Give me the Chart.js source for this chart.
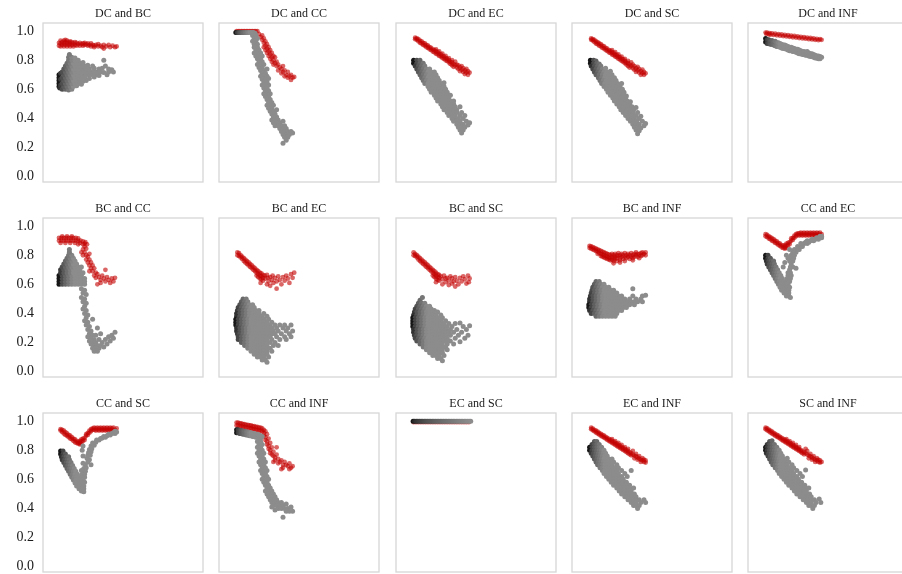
<!DOCTYPE html>
<html lang="en">
<head>
  <meta charset="UTF-8">
  <title>Pairwise scatter panels</title>
  <script src="https://cdn.jsdelivr.net/npm/chart.js@4"></script>
  <style>
    body {
      margin: 0;
      background: #fff;
      width: 902px;
      height: 574px;
      overflow: hidden;
      position: relative;
    }
    canvas { position: absolute; }
  </style>
</head>
<body>
<script>
  const yTicks = [0, 0.2, 0.4, 0.6, 0.8, 1.0];

  const panelTitles = [
    'DC and BC', 'DC and CC', 'DC and EC', 'DC and SC', 'DC and INF',
    'BC and CC', 'BC and EC', 'BC and SC', 'BC and INF', 'CC and EC',
    'CC and SC', 'CC and INF', 'EC and SC', 'EC and INF', 'SC and INF'
  ];

  // x is read as a fraction of the panel width (the source has no x ticks)
  const dcBcRed = [[0.10,0.90],[0.10,0.92],[0.11,0.895],[0.11,0.915],[0.11,0.935],[0.12,0.905],[0.12,0.925],[0.13,0.895],[0.13,0.915],[0.13,0.935],[0.14,0.905],[0.14,0.925],[0.14,0.94],[0.15,0.895],[0.15,0.915],[0.15,0.935],[0.16,0.905],[0.16,0.925],[0.17,0.895],[0.17,0.915],[0.17,0.93],[0.18,0.905],[0.18,0.925],[0.19,0.895],[0.19,0.915],[0.20,0.905],[0.20,0.925],[0.21,0.90],[0.21,0.92],[0.22,0.91],[0.23,0.90],[0.23,0.92],[0.24,0.91],[0.25,0.90],[0.25,0.915],[0.26,0.905],[0.26,0.92],[0.27,0.91],[0.28,0.90],[0.28,0.915],[0.29,0.905],[0.30,0.895],[0.30,0.915],[0.31,0.905],[0.32,0.90],[0.32,0.89],[0.33,0.905],[0.345,0.895],[0.345,0.91],[0.36,0.90],[0.37,0.89],[0.38,0.905],[0.38,0.88],[0.395,0.895],[0.41,0.905],[0.42,0.89],[0.435,0.90],[0.45,0.89],[0.46,0.895]];
  const dcBcGrey = [[0.10,0.62],[0.10,0.64],[0.10,0.66],[0.10,0.68],[0.10,0.70],[0.105,0.61],[0.11,0.63],[0.11,0.67],[0.11,0.71],[0.12,0.60],[0.14,0.60],[0.16,0.595],[0.18,0.60],[0.13,0.62],[0.15,0.62],[0.17,0.62],[0.19,0.62],[0.21,0.625],[0.12,0.64],[0.14,0.64],[0.16,0.64],[0.18,0.64],[0.20,0.64],[0.22,0.64],[0.24,0.635],[0.13,0.66],[0.15,0.66],[0.17,0.66],[0.19,0.66],[0.21,0.66],[0.23,0.66],[0.25,0.655],[0.27,0.66],[0.12,0.68],[0.14,0.68],[0.16,0.68],[0.18,0.68],[0.20,0.68],[0.22,0.68],[0.24,0.68],[0.26,0.68],[0.29,0.675],[0.32,0.685],[0.13,0.70],[0.15,0.70],[0.17,0.70],[0.19,0.70],[0.21,0.70],[0.23,0.70],[0.25,0.70],[0.27,0.70],[0.29,0.70],[0.31,0.70],[0.33,0.70],[0.35,0.695],[0.40,0.70],[0.12,0.72],[0.14,0.72],[0.16,0.72],[0.18,0.72],[0.20,0.72],[0.22,0.72],[0.24,0.72],[0.26,0.72],[0.28,0.72],[0.30,0.72],[0.32,0.72],[0.34,0.72],[0.36,0.72],[0.38,0.715],[0.41,0.72],[0.44,0.72],[0.13,0.74],[0.15,0.74],[0.17,0.74],[0.19,0.74],[0.21,0.74],[0.23,0.74],[0.25,0.74],[0.27,0.74],[0.29,0.74],[0.32,0.745],[0.35,0.74],[0.37,0.745],[0.41,0.74],[0.43,0.735],[0.14,0.76],[0.16,0.76],[0.18,0.76],[0.20,0.76],[0.22,0.76],[0.24,0.76],[0.26,0.76],[0.28,0.765],[0.31,0.76],[0.39,0.76],[0.15,0.78],[0.17,0.78],[0.19,0.78],[0.21,0.78],[0.23,0.78],[0.25,0.785],[0.16,0.80],[0.18,0.80],[0.20,0.80],[0.22,0.80],[0.38,0.80],[0.16,0.82],[0.18,0.82],[0.20,0.815],[0.165,0.84]];

  const dcCcRed = [[0.11,1.0],[0.12,1.0],[0.13,1.0],[0.14,1.0],[0.15,1.0],[0.16,1.0],[0.17,1.0],[0.18,1.0],[0.19,1.0],[0.20,1.0],[0.21,1.0],[0.22,1.0],[0.23,1.0],[0.24,1.0],[0.25,0.98],[0.26,0.96],[0.27,0.97],[0.27,0.94],[0.28,0.95],[0.28,0.92],[0.29,0.93],[0.29,0.90],[0.30,0.91],[0.29,0.87],[0.30,0.88],[0.31,0.89],[0.30,0.85],[0.31,0.86],[0.32,0.87],[0.31,0.83],[0.32,0.84],[0.33,0.85],[0.32,0.81],[0.33,0.82],[0.34,0.83],[0.33,0.79],[0.34,0.80],[0.35,0.78],[0.36,0.79],[0.34,0.77],[0.36,0.76],[0.37,0.77],[0.38,0.75],[0.37,0.73],[0.39,0.74],[0.40,0.72],[0.39,0.71],[0.41,0.73],[0.42,0.70],[0.43,0.72],[0.41,0.69],[0.44,0.69],[0.45,0.70],[0.46,0.68],[0.45,0.665],[0.47,0.685],[0.43,0.68],[0.40,0.76],[0.35,0.82],[0.28,0.89]];
  const dcCcGrey = [[0.105,0.99],[0.115,0.99],[0.125,0.99],[0.135,0.99],[0.145,0.99],[0.155,0.99],[0.165,0.99],[0.175,0.99],[0.185,0.99],[0.195,0.99],[0.205,0.99],[0.215,0.99],[0.225,0.985],[0.21,0.97],[0.23,0.97],[0.22,0.95],[0.24,0.95],[0.21,0.93],[0.23,0.93],[0.22,0.91],[0.24,0.91],[0.22,0.89],[0.24,0.89],[0.23,0.87],[0.25,0.87],[0.22,0.85],[0.24,0.85],[0.26,0.85],[0.23,0.83],[0.25,0.83],[0.27,0.83],[0.24,0.81],[0.26,0.81],[0.25,0.79],[0.27,0.79],[0.24,0.77],[0.26,0.77],[0.28,0.77],[0.25,0.75],[0.27,0.75],[0.26,0.73],[0.28,0.73],[0.30,0.74],[0.27,0.71],[0.29,0.71],[0.26,0.69],[0.28,0.69],[0.30,0.69],[0.27,0.67],[0.29,0.67],[0.31,0.675],[0.28,0.65],[0.30,0.65],[0.27,0.63],[0.29,0.63],[0.31,0.63],[0.28,0.61],[0.30,0.61],[0.29,0.59],[0.31,0.59],[0.28,0.57],[0.30,0.57],[0.32,0.57],[0.29,0.55],[0.31,0.55],[0.30,0.53],[0.32,0.53],[0.31,0.51],[0.33,0.51],[0.30,0.49],[0.32,0.49],[0.34,0.49],[0.31,0.47],[0.33,0.47],[0.32,0.45],[0.34,0.45],[0.36,0.46],[0.33,0.43],[0.35,0.43],[0.34,0.41],[0.36,0.41],[0.33,0.39],[0.35,0.39],[0.37,0.39],[0.34,0.37],[0.36,0.37],[0.38,0.37],[0.40,0.38],[0.35,0.35],[0.37,0.35],[0.39,0.35],[0.41,0.35],[0.38,0.33],[0.40,0.33],[0.42,0.33],[0.39,0.31],[0.41,0.31],[0.43,0.31],[0.45,0.31],[0.40,0.29],[0.42,0.29],[0.44,0.29],[0.46,0.30],[0.41,0.27],[0.43,0.27],[0.42,0.25],[0.40,0.23]];

  const dcEcRed = [[0.12,0.955],[0.12,0.945],[0.13,0.95],[0.13,0.94],[0.14,0.945],[0.14,0.93],[0.15,0.935],[0.15,0.92],[0.16,0.93],[0.16,0.915],[0.17,0.92],[0.17,0.905],[0.18,0.915],[0.18,0.90],[0.19,0.905],[0.19,0.89],[0.20,0.90],[0.20,0.885],[0.21,0.89],[0.21,0.875],[0.22,0.885],[0.22,0.87],[0.23,0.875],[0.23,0.86],[0.24,0.87],[0.24,0.855],[0.25,0.86],[0.25,0.845],[0.25,0.875],[0.26,0.855],[0.26,0.84],[0.27,0.845],[0.27,0.83],[0.27,0.86],[0.28,0.84],[0.28,0.825],[0.29,0.83],[0.29,0.815],[0.29,0.845],[0.30,0.825],[0.30,0.81],[0.31,0.815],[0.31,0.80],[0.31,0.83],[0.32,0.81],[0.32,0.795],[0.33,0.80],[0.33,0.785],[0.33,0.815],[0.34,0.79],[0.34,0.775],[0.35,0.785],[0.35,0.765],[0.35,0.80],[0.36,0.775],[0.36,0.755],[0.37,0.765],[0.37,0.79],[0.38,0.75],[0.38,0.77],[0.39,0.74],[0.39,0.765],[0.40,0.75],[0.40,0.725],[0.41,0.735],[0.41,0.76],[0.42,0.72],[0.42,0.745],[0.43,0.73],[0.43,0.705],[0.44,0.715],[0.44,0.74],[0.45,0.70],[0.45,0.725],[0.46,0.715]];
  const dcEcGrey = [[0.11,0.80],[0.13,0.80],[0.15,0.80],[0.11,0.78],[0.13,0.78],[0.15,0.78],[0.17,0.78],[0.12,0.76],[0.14,0.76],[0.16,0.76],[0.18,0.76],[0.13,0.74],[0.15,0.74],[0.17,0.74],[0.19,0.74],[0.21,0.74],[0.14,0.72],[0.16,0.72],[0.18,0.72],[0.20,0.72],[0.22,0.72],[0.24,0.72],[0.15,0.70],[0.17,0.70],[0.19,0.70],[0.21,0.70],[0.23,0.70],[0.25,0.70],[0.16,0.68],[0.18,0.68],[0.20,0.68],[0.22,0.68],[0.24,0.68],[0.26,0.68],[0.17,0.66],[0.19,0.66],[0.21,0.66],[0.23,0.66],[0.25,0.66],[0.27,0.66],[0.18,0.64],[0.20,0.64],[0.22,0.64],[0.24,0.64],[0.26,0.64],[0.28,0.64],[0.30,0.645],[0.20,0.62],[0.22,0.62],[0.24,0.62],[0.26,0.62],[0.28,0.62],[0.30,0.62],[0.21,0.60],[0.23,0.60],[0.25,0.60],[0.27,0.60],[0.29,0.60],[0.31,0.60],[0.22,0.58],[0.24,0.58],[0.26,0.58],[0.28,0.58],[0.30,0.58],[0.32,0.58],[0.24,0.56],[0.26,0.56],[0.28,0.56],[0.30,0.56],[0.32,0.56],[0.34,0.56],[0.25,0.54],[0.27,0.54],[0.29,0.54],[0.31,0.54],[0.33,0.54],[0.26,0.52],[0.28,0.52],[0.30,0.52],[0.32,0.52],[0.34,0.52],[0.36,0.52],[0.28,0.50],[0.30,0.50],[0.32,0.50],[0.34,0.50],[0.36,0.50],[0.29,0.48],[0.31,0.48],[0.33,0.48],[0.35,0.48],[0.37,0.48],[0.40,0.48],[0.30,0.46],[0.32,0.46],[0.34,0.46],[0.36,0.46],[0.38,0.46],[0.32,0.44],[0.34,0.44],[0.36,0.44],[0.38,0.44],[0.41,0.44],[0.33,0.42],[0.35,0.42],[0.37,0.42],[0.40,0.42],[0.43,0.42],[0.35,0.40],[0.37,0.40],[0.39,0.40],[0.42,0.40],[0.36,0.38],[0.38,0.38],[0.40,0.38],[0.44,0.38],[0.46,0.37],[0.38,0.36],[0.40,0.36],[0.42,0.36],[0.45,0.355],[0.39,0.34],[0.41,0.34],[0.43,0.34],[0.40,0.32],[0.42,0.32],[0.41,0.30]];

  const dcScRed = [[0.12,0.95],[0.12,0.94],[0.13,0.945],[0.13,0.935],[0.14,0.94],[0.14,0.925],[0.15,0.93],[0.15,0.915],[0.16,0.925],[0.16,0.91],[0.17,0.915],[0.17,0.90],[0.18,0.91],[0.18,0.895],[0.19,0.90],[0.19,0.885],[0.20,0.895],[0.20,0.88],[0.21,0.885],[0.21,0.87],[0.22,0.88],[0.22,0.865],[0.23,0.87],[0.23,0.855],[0.24,0.865],[0.24,0.85],[0.25,0.855],[0.25,0.84],[0.25,0.87],[0.26,0.85],[0.26,0.835],[0.27,0.84],[0.27,0.825],[0.27,0.855],[0.28,0.835],[0.28,0.82],[0.29,0.825],[0.29,0.81],[0.29,0.84],[0.30,0.82],[0.30,0.805],[0.31,0.81],[0.31,0.795],[0.31,0.825],[0.32,0.805],[0.32,0.79],[0.33,0.795],[0.33,0.78],[0.33,0.81],[0.34,0.785],[0.34,0.77],[0.35,0.78],[0.35,0.76],[0.35,0.795],[0.36,0.77],[0.36,0.75],[0.37,0.76],[0.37,0.785],[0.38,0.745],[0.38,0.77],[0.39,0.735],[0.39,0.76],[0.40,0.745],[0.40,0.72],[0.41,0.73],[0.41,0.755],[0.42,0.715],[0.42,0.74],[0.43,0.725],[0.43,0.70],[0.44,0.71],[0.44,0.735],[0.45,0.70],[0.45,0.72],[0.46,0.71]];
  const dcScGrey = [[0.115,0.80],[0.135,0.80],[0.15,0.795],[0.115,0.78],[0.135,0.78],[0.155,0.78],[0.17,0.775],[0.12,0.76],[0.14,0.76],[0.16,0.76],[0.18,0.76],[0.13,0.74],[0.15,0.74],[0.17,0.74],[0.19,0.74],[0.21,0.745],[0.14,0.72],[0.16,0.72],[0.18,0.72],[0.20,0.72],[0.22,0.72],[0.24,0.725],[0.15,0.70],[0.17,0.70],[0.19,0.70],[0.21,0.70],[0.23,0.70],[0.25,0.70],[0.165,0.68],[0.185,0.68],[0.205,0.68],[0.225,0.68],[0.245,0.68],[0.265,0.68],[0.175,0.66],[0.195,0.66],[0.215,0.66],[0.235,0.66],[0.255,0.66],[0.275,0.66],[0.185,0.64],[0.205,0.64],[0.225,0.64],[0.245,0.64],[0.265,0.64],[0.285,0.64],[0.31,0.64],[0.20,0.62],[0.22,0.62],[0.24,0.62],[0.26,0.62],[0.28,0.62],[0.30,0.62],[0.215,0.60],[0.235,0.60],[0.255,0.60],[0.275,0.60],[0.295,0.60],[0.315,0.60],[0.225,0.58],[0.245,0.58],[0.265,0.58],[0.285,0.58],[0.305,0.58],[0.325,0.58],[0.24,0.56],[0.26,0.56],[0.28,0.56],[0.30,0.56],[0.32,0.56],[0.34,0.555],[0.255,0.54],[0.275,0.54],[0.295,0.54],[0.315,0.54],[0.335,0.54],[0.265,0.52],[0.285,0.52],[0.305,0.52],[0.325,0.52],[0.345,0.52],[0.365,0.515],[0.28,0.50],[0.30,0.50],[0.32,0.50],[0.34,0.50],[0.36,0.50],[0.295,0.48],[0.315,0.48],[0.335,0.48],[0.355,0.48],[0.375,0.48],[0.40,0.475],[0.305,0.46],[0.325,0.46],[0.345,0.46],[0.365,0.46],[0.385,0.46],[0.32,0.44],[0.34,0.44],[0.36,0.44],[0.38,0.44],[0.41,0.44],[0.335,0.42],[0.355,0.42],[0.375,0.42],[0.40,0.42],[0.43,0.415],[0.35,0.40],[0.37,0.40],[0.39,0.40],[0.42,0.40],[0.365,0.38],[0.385,0.38],[0.405,0.38],[0.44,0.38],[0.46,0.365],[0.38,0.36],[0.40,0.36],[0.42,0.36],[0.45,0.35],[0.39,0.34],[0.41,0.34],[0.43,0.335],[0.40,0.32],[0.42,0.315],[0.41,0.295]];

  const dcInfRed = [[0.11,0.99],[0.115,0.98],[0.12,0.99],[0.13,0.978],[0.135,0.987],[0.14,0.976],[0.15,0.985],[0.16,0.974],[0.17,0.982],[0.18,0.971],[0.19,0.98],[0.20,0.969],[0.21,0.977],[0.22,0.966],[0.23,0.974],[0.24,0.964],[0.25,0.972],[0.26,0.961],[0.27,0.969],[0.28,0.958],[0.29,0.967],[0.30,0.956],[0.31,0.964],[0.32,0.953],[0.33,0.961],[0.34,0.95],[0.35,0.958],[0.36,0.948],[0.37,0.956],[0.38,0.945],[0.39,0.953],[0.40,0.943],[0.41,0.95],[0.42,0.94],[0.43,0.947],[0.44,0.938],[0.45,0.945],[0.46,0.94]];
  const dcInfGrey = [[0.11,0.95],[0.11,0.925],[0.12,0.94],[0.12,0.915],[0.13,0.94],[0.13,0.915],[0.14,0.93],[0.14,0.91],[0.15,0.935],[0.15,0.91],[0.16,0.925],[0.16,0.905],[0.17,0.93],[0.17,0.90],[0.18,0.92],[0.18,0.895],[0.19,0.92],[0.19,0.895],[0.20,0.915],[0.20,0.89],[0.21,0.91],[0.21,0.885],[0.22,0.905],[0.22,0.88],[0.23,0.905],[0.23,0.88],[0.24,0.90],[0.24,0.875],[0.25,0.895],[0.25,0.87],[0.26,0.89],[0.26,0.865],[0.27,0.89],[0.27,0.865],[0.28,0.885],[0.28,0.86],[0.29,0.88],[0.29,0.86],[0.30,0.875],[0.30,0.855],[0.31,0.875],[0.31,0.85],[0.32,0.87],[0.32,0.845],[0.33,0.865],[0.33,0.845],[0.34,0.86],[0.34,0.84],[0.35,0.86],[0.35,0.84],[0.36,0.855],[0.36,0.835],[0.37,0.86],[0.37,0.835],[0.38,0.85],[0.38,0.83],[0.39,0.845],[0.39,0.825],[0.40,0.845],[0.40,0.825],[0.41,0.84],[0.41,0.82],[0.42,0.835],[0.42,0.815],[0.43,0.83],[0.43,0.815],[0.44,0.83],[0.44,0.81],[0.45,0.825],[0.45,0.81],[0.46,0.82]];

  const bcCcRed = [[0.10,0.92],[0.115,0.92],[0.13,0.92],[0.145,0.92],[0.16,0.92],[0.175,0.92],[0.19,0.92],[0.205,0.92],[0.22,0.915],[0.10,0.90],[0.115,0.90],[0.13,0.90],[0.145,0.90],[0.16,0.90],[0.175,0.90],[0.19,0.90],[0.205,0.90],[0.22,0.90],[0.235,0.90],[0.25,0.895],[0.265,0.89],[0.11,0.885],[0.14,0.885],[0.17,0.885],[0.20,0.885],[0.23,0.885],[0.26,0.88],[0.275,0.875],[0.22,0.875],[0.25,0.875],[0.12,0.93],[0.15,0.93],[0.18,0.93],[0.26,0.86],[0.25,0.84],[0.27,0.845],[0.24,0.82],[0.26,0.82],[0.27,0.80],[0.25,0.80],[0.28,0.79],[0.27,0.77],[0.29,0.77],[0.28,0.75],[0.30,0.75],[0.29,0.73],[0.31,0.73],[0.30,0.71],[0.32,0.71],[0.29,0.69],[0.31,0.69],[0.33,0.68],[0.32,0.66],[0.34,0.67],[0.33,0.645],[0.35,0.65],[0.36,0.63],[0.37,0.66],[0.38,0.64],[0.39,0.62],[0.40,0.65],[0.41,0.63],[0.42,0.61],[0.43,0.64],[0.44,0.62],[0.45,0.645],[0.36,0.61],[0.34,0.60],[0.39,0.70],[0.29,0.81]];
  const bcCcGrey = [[0.10,0.60],[0.12,0.60],[0.14,0.60],[0.16,0.60],[0.18,0.60],[0.20,0.60],[0.22,0.60],[0.24,0.60],[0.26,0.60],[0.10,0.62],[0.12,0.62],[0.14,0.62],[0.16,0.62],[0.18,0.62],[0.20,0.62],[0.22,0.62],[0.24,0.62],[0.26,0.62],[0.10,0.64],[0.12,0.64],[0.14,0.64],[0.16,0.64],[0.18,0.64],[0.20,0.64],[0.22,0.64],[0.24,0.64],[0.26,0.64],[0.10,0.66],[0.12,0.66],[0.14,0.66],[0.16,0.66],[0.18,0.66],[0.20,0.66],[0.22,0.66],[0.24,0.66],[0.11,0.68],[0.13,0.68],[0.15,0.68],[0.17,0.68],[0.19,0.68],[0.21,0.68],[0.23,0.68],[0.25,0.68],[0.11,0.70],[0.13,0.70],[0.15,0.70],[0.17,0.70],[0.19,0.70],[0.21,0.70],[0.23,0.70],[0.12,0.72],[0.14,0.72],[0.16,0.72],[0.18,0.72],[0.20,0.72],[0.22,0.72],[0.24,0.72],[0.13,0.74],[0.15,0.74],[0.17,0.74],[0.19,0.74],[0.21,0.74],[0.14,0.76],[0.16,0.76],[0.18,0.76],[0.20,0.76],[0.15,0.78],[0.17,0.78],[0.19,0.78],[0.16,0.80],[0.18,0.80],[0.165,0.82],[0.165,0.84],[0.24,0.57],[0.26,0.56],[0.25,0.54],[0.27,0.53],[0.24,0.51],[0.26,0.50],[0.25,0.48],[0.27,0.47],[0.26,0.45],[0.25,0.43],[0.27,0.42],[0.26,0.40],[0.28,0.39],[0.27,0.37],[0.26,0.35],[0.28,0.34],[0.27,0.32],[0.29,0.31],[0.28,0.29],[0.30,0.28],[0.29,0.26],[0.31,0.25],[0.28,0.24],[0.30,0.23],[0.32,0.22],[0.29,0.21],[0.31,0.20],[0.33,0.20],[0.30,0.19],[0.32,0.18],[0.34,0.18],[0.31,0.16],[0.33,0.16],[0.35,0.16],[0.32,0.14],[0.34,0.14],[0.36,0.18],[0.37,0.20],[0.38,0.17],[0.39,0.22],[0.40,0.19],[0.41,0.24],[0.42,0.21],[0.43,0.25],[0.44,0.23],[0.45,0.27],[0.35,0.22],[0.33,0.25],[0.36,0.26],[0.34,0.30],[0.31,0.36]];

  const bcEcRed = [[0.115,0.82],[0.115,0.80],[0.125,0.815],[0.125,0.795],[0.135,0.80],[0.135,0.785],[0.145,0.79],[0.145,0.775],[0.155,0.78],[0.155,0.76],[0.165,0.77],[0.165,0.75],[0.175,0.76],[0.175,0.74],[0.185,0.75],[0.185,0.73],[0.195,0.74],[0.195,0.72],[0.205,0.73],[0.205,0.71],[0.215,0.72],[0.215,0.70],[0.225,0.71],[0.225,0.69],[0.235,0.70],[0.235,0.68],[0.235,0.66],[0.245,0.69],[0.245,0.67],[0.245,0.65],[0.255,0.68],[0.255,0.66],[0.255,0.64],[0.265,0.675],[0.265,0.655],[0.265,0.635],[0.275,0.665],[0.275,0.645],[0.275,0.625],[0.285,0.66],[0.29,0.64],[0.30,0.665],[0.305,0.645],[0.31,0.62],[0.32,0.65],[0.33,0.63],[0.335,0.66],[0.34,0.61],[0.35,0.645],[0.36,0.62],[0.36,0.57],[0.37,0.655],[0.38,0.63],[0.39,0.60],[0.40,0.65],[0.41,0.625],[0.42,0.66],[0.43,0.64],[0.44,0.61],[0.45,0.67],[0.46,0.645],[0.47,0.68],[0.30,0.60],[0.32,0.59],[0.26,0.61]];
  const bcEcGrey = [[0.15,0.50],[0.17,0.50],[0.14,0.48],[0.16,0.48],[0.18,0.48],[0.13,0.46],[0.15,0.46],[0.17,0.46],[0.19,0.46],[0.21,0.46],[0.12,0.44],[0.14,0.44],[0.16,0.44],[0.18,0.44],[0.20,0.44],[0.22,0.44],[0.115,0.42],[0.13,0.42],[0.15,0.42],[0.17,0.42],[0.19,0.42],[0.21,0.42],[0.23,0.42],[0.25,0.42],[0.11,0.40],[0.13,0.40],[0.15,0.40],[0.17,0.40],[0.19,0.40],[0.21,0.40],[0.23,0.40],[0.25,0.40],[0.28,0.40],[0.11,0.38],[0.13,0.38],[0.15,0.38],[0.17,0.38],[0.19,0.38],[0.21,0.38],[0.23,0.38],[0.25,0.38],[0.27,0.38],[0.30,0.38],[0.105,0.36],[0.12,0.36],[0.14,0.36],[0.16,0.36],[0.18,0.36],[0.20,0.36],[0.22,0.36],[0.24,0.36],[0.26,0.36],[0.28,0.36],[0.31,0.36],[0.105,0.34],[0.12,0.34],[0.14,0.34],[0.16,0.34],[0.18,0.34],[0.20,0.34],[0.22,0.34],[0.24,0.34],[0.26,0.34],[0.28,0.34],[0.30,0.34],[0.33,0.34],[0.105,0.32],[0.12,0.32],[0.14,0.32],[0.16,0.32],[0.18,0.32],[0.20,0.32],[0.22,0.32],[0.24,0.32],[0.26,0.32],[0.28,0.32],[0.30,0.32],[0.32,0.32],[0.35,0.32],[0.38,0.32],[0.41,0.32],[0.45,0.32],[0.11,0.30],[0.13,0.30],[0.15,0.30],[0.17,0.30],[0.19,0.30],[0.21,0.30],[0.23,0.30],[0.25,0.30],[0.27,0.30],[0.29,0.30],[0.31,0.30],[0.33,0.30],[0.36,0.30],[0.40,0.30],[0.43,0.30],[0.11,0.28],[0.13,0.28],[0.15,0.28],[0.17,0.28],[0.19,0.28],[0.21,0.28],[0.23,0.28],[0.25,0.28],[0.27,0.28],[0.29,0.28],[0.31,0.28],[0.34,0.28],[0.37,0.28],[0.42,0.28],[0.46,0.28],[0.115,0.26],[0.13,0.26],[0.15,0.26],[0.17,0.26],[0.19,0.26],[0.21,0.26],[0.23,0.26],[0.25,0.26],[0.27,0.26],[0.29,0.26],[0.31,0.26],[0.33,0.26],[0.35,0.26],[0.39,0.26],[0.44,0.26],[0.12,0.24],[0.14,0.24],[0.16,0.24],[0.18,0.24],[0.20,0.24],[0.22,0.24],[0.24,0.24],[0.26,0.24],[0.28,0.24],[0.30,0.24],[0.32,0.24],[0.36,0.24],[0.41,0.24],[0.45,0.24],[0.12,0.22],[0.14,0.22],[0.16,0.22],[0.18,0.22],[0.20,0.22],[0.22,0.22],[0.24,0.22],[0.26,0.22],[0.28,0.22],[0.30,0.22],[0.33,0.22],[0.38,0.22],[0.42,0.22],[0.14,0.20],[0.16,0.20],[0.18,0.20],[0.20,0.20],[0.22,0.20],[0.24,0.20],[0.26,0.20],[0.28,0.20],[0.30,0.20],[0.32,0.20],[0.35,0.20],[0.16,0.18],[0.18,0.18],[0.20,0.18],[0.22,0.18],[0.24,0.18],[0.26,0.18],[0.28,0.18],[0.30,0.18],[0.34,0.18],[0.37,0.18],[0.18,0.16],[0.20,0.16],[0.22,0.16],[0.24,0.16],[0.26,0.16],[0.28,0.16],[0.30,0.16],[0.32,0.16],[0.20,0.14],[0.22,0.14],[0.24,0.14],[0.26,0.14],[0.28,0.14],[0.30,0.14],[0.33,0.14],[0.22,0.12],[0.24,0.12],[0.26,0.12],[0.28,0.12],[0.30,0.12],[0.24,0.10],[0.26,0.10],[0.28,0.10],[0.31,0.10],[0.27,0.08],[0.29,0.08],[0.30,0.065]];

  const bcScRed = [[0.11,0.82],[0.11,0.80],[0.12,0.81],[0.12,0.795],[0.13,0.80],[0.13,0.785],[0.14,0.79],[0.14,0.77],[0.15,0.78],[0.15,0.76],[0.16,0.77],[0.16,0.75],[0.17,0.76],[0.17,0.74],[0.18,0.75],[0.18,0.73],[0.19,0.74],[0.19,0.72],[0.20,0.73],[0.20,0.71],[0.21,0.72],[0.21,0.70],[0.22,0.71],[0.22,0.69],[0.23,0.70],[0.23,0.68],[0.23,0.66],[0.24,0.69],[0.24,0.67],[0.24,0.65],[0.25,0.68],[0.25,0.66],[0.25,0.64],[0.26,0.67],[0.26,0.65],[0.26,0.63],[0.27,0.665],[0.27,0.645],[0.27,0.625],[0.28,0.655],[0.29,0.635],[0.30,0.66],[0.31,0.64],[0.31,0.615],[0.32,0.645],[0.33,0.625],[0.34,0.655],[0.35,0.605],[0.35,0.64],[0.36,0.62],[0.37,0.585],[0.37,0.65],[0.38,0.625],[0.39,0.60],[0.40,0.645],[0.41,0.62],[0.42,0.655],[0.43,0.635],[0.44,0.605],[0.45,0.66],[0.46,0.64],[0.455,0.615],[0.29,0.60],[0.33,0.595],[0.25,0.615]];
  const bcScGrey = [[0.15,0.49],[0.165,0.51],[0.14,0.47],[0.16,0.47],[0.18,0.47],[0.13,0.45],[0.15,0.45],[0.17,0.45],[0.19,0.45],[0.21,0.45],[0.12,0.43],[0.14,0.43],[0.16,0.43],[0.18,0.43],[0.20,0.43],[0.22,0.43],[0.24,0.42],[0.115,0.41],[0.13,0.41],[0.15,0.41],[0.17,0.41],[0.19,0.41],[0.21,0.41],[0.23,0.41],[0.26,0.41],[0.11,0.39],[0.13,0.39],[0.15,0.39],[0.17,0.39],[0.19,0.39],[0.21,0.39],[0.23,0.39],[0.25,0.39],[0.28,0.39],[0.105,0.37],[0.12,0.37],[0.14,0.37],[0.16,0.37],[0.18,0.37],[0.20,0.37],[0.22,0.37],[0.24,0.37],[0.26,0.37],[0.29,0.37],[0.105,0.35],[0.12,0.35],[0.14,0.35],[0.16,0.35],[0.18,0.35],[0.20,0.35],[0.22,0.35],[0.24,0.35],[0.26,0.35],[0.28,0.35],[0.31,0.35],[0.105,0.33],[0.12,0.33],[0.14,0.33],[0.16,0.33],[0.18,0.33],[0.20,0.33],[0.22,0.33],[0.24,0.33],[0.26,0.33],[0.28,0.33],[0.30,0.33],[0.33,0.33],[0.37,0.33],[0.40,0.335],[0.105,0.31],[0.12,0.31],[0.14,0.31],[0.16,0.31],[0.18,0.31],[0.20,0.31],[0.22,0.31],[0.24,0.31],[0.26,0.31],[0.28,0.31],[0.30,0.31],[0.32,0.31],[0.35,0.31],[0.42,0.31],[0.46,0.315],[0.11,0.29],[0.13,0.29],[0.15,0.29],[0.17,0.29],[0.19,0.29],[0.21,0.29],[0.23,0.29],[0.25,0.29],[0.27,0.29],[0.29,0.29],[0.31,0.29],[0.34,0.29],[0.38,0.29],[0.44,0.29],[0.11,0.27],[0.13,0.27],[0.15,0.27],[0.17,0.27],[0.19,0.27],[0.21,0.27],[0.23,0.27],[0.25,0.27],[0.27,0.27],[0.29,0.27],[0.31,0.27],[0.33,0.27],[0.36,0.27],[0.41,0.27],[0.115,0.25],[0.13,0.25],[0.15,0.25],[0.17,0.25],[0.19,0.25],[0.21,0.25],[0.23,0.25],[0.25,0.25],[0.27,0.25],[0.29,0.25],[0.31,0.25],[0.34,0.25],[0.39,0.25],[0.45,0.25],[0.12,0.23],[0.14,0.23],[0.16,0.23],[0.18,0.23],[0.20,0.23],[0.22,0.23],[0.24,0.23],[0.26,0.23],[0.28,0.23],[0.30,0.23],[0.32,0.23],[0.37,0.23],[0.43,0.23],[0.13,0.21],[0.15,0.21],[0.17,0.21],[0.19,0.21],[0.21,0.21],[0.23,0.21],[0.25,0.21],[0.27,0.21],[0.29,0.21],[0.31,0.21],[0.34,0.21],[0.40,0.205],[0.15,0.19],[0.17,0.19],[0.19,0.19],[0.21,0.19],[0.23,0.19],[0.25,0.19],[0.27,0.19],[0.29,0.19],[0.32,0.19],[0.36,0.19],[0.17,0.17],[0.19,0.17],[0.21,0.17],[0.23,0.17],[0.25,0.17],[0.27,0.17],[0.29,0.17],[0.31,0.17],[0.19,0.15],[0.21,0.15],[0.23,0.15],[0.25,0.15],[0.27,0.15],[0.29,0.15],[0.32,0.15],[0.21,0.13],[0.23,0.13],[0.25,0.13],[0.27,0.13],[0.29,0.13],[0.23,0.11],[0.25,0.11],[0.27,0.11],[0.30,0.11],[0.26,0.09],[0.28,0.09],[0.29,0.075]];

  const bcInfRed = [[0.11,0.865],[0.11,0.85],[0.12,0.86],[0.12,0.845],[0.13,0.855],[0.13,0.84],[0.14,0.85],[0.14,0.835],[0.15,0.845],[0.15,0.83],[0.16,0.84],[0.16,0.825],[0.16,0.81],[0.17,0.835],[0.17,0.815],[0.18,0.83],[0.18,0.81],[0.18,0.795],[0.19,0.825],[0.19,0.805],[0.19,0.79],[0.20,0.82],[0.20,0.80],[0.20,0.785],[0.21,0.815],[0.21,0.795],[0.21,0.78],[0.22,0.81],[0.22,0.79],[0.22,0.775],[0.23,0.805],[0.23,0.785],[0.23,0.77],[0.24,0.80],[0.24,0.78],[0.24,0.765],[0.25,0.81],[0.25,0.79],[0.25,0.77],[0.26,0.80],[0.26,0.78],[0.26,0.76],[0.27,0.81],[0.27,0.79],[0.27,0.775],[0.28,0.80],[0.28,0.78],[0.28,0.76],[0.29,0.815],[0.29,0.795],[0.30,0.80],[0.30,0.78],[0.30,0.765],[0.31,0.81],[0.31,0.79],[0.32,0.80],[0.32,0.775],[0.33,0.815],[0.33,0.79],[0.33,0.76],[0.34,0.80],[0.34,0.78],[0.35,0.81],[0.35,0.79],[0.36,0.80],[0.36,0.775],[0.37,0.815],[0.37,0.79],[0.38,0.80],[0.38,0.78],[0.38,0.765],[0.39,0.81],[0.39,0.79],[0.40,0.80],[0.40,0.82],[0.41,0.79],[0.41,0.81],[0.42,0.805],[0.42,0.78],[0.43,0.815],[0.43,0.795],[0.44,0.80],[0.44,0.82],[0.45,0.81],[0.46,0.82],[0.46,0.80],[0.30,0.75],[0.26,0.745]];
  const bcInfGrey = [[0.15,0.62],[0.17,0.62],[0.14,0.60],[0.16,0.60],[0.18,0.60],[0.20,0.60],[0.13,0.58],[0.15,0.58],[0.17,0.58],[0.19,0.58],[0.21,0.58],[0.23,0.58],[0.125,0.56],[0.14,0.56],[0.16,0.56],[0.18,0.56],[0.20,0.56],[0.22,0.56],[0.24,0.56],[0.26,0.56],[0.12,0.54],[0.14,0.54],[0.16,0.54],[0.18,0.54],[0.20,0.54],[0.22,0.54],[0.24,0.54],[0.26,0.54],[0.28,0.54],[0.115,0.52],[0.13,0.52],[0.15,0.52],[0.17,0.52],[0.19,0.52],[0.21,0.52],[0.23,0.52],[0.25,0.52],[0.27,0.52],[0.29,0.52],[0.31,0.52],[0.38,0.52],[0.44,0.52],[0.46,0.525],[0.11,0.50],[0.13,0.50],[0.15,0.50],[0.17,0.50],[0.19,0.50],[0.21,0.50],[0.23,0.50],[0.25,0.50],[0.27,0.50],[0.29,0.50],[0.31,0.50],[0.33,0.50],[0.36,0.50],[0.40,0.50],[0.43,0.50],[0.11,0.48],[0.13,0.48],[0.15,0.48],[0.17,0.48],[0.19,0.48],[0.21,0.48],[0.23,0.48],[0.25,0.48],[0.27,0.48],[0.29,0.48],[0.31,0.48],[0.33,0.48],[0.35,0.48],[0.37,0.48],[0.39,0.48],[0.41,0.48],[0.44,0.48],[0.105,0.46],[0.12,0.46],[0.14,0.46],[0.16,0.46],[0.18,0.46],[0.20,0.46],[0.22,0.46],[0.24,0.46],[0.26,0.46],[0.28,0.46],[0.30,0.46],[0.32,0.46],[0.34,0.46],[0.36,0.46],[0.39,0.46],[0.105,0.44],[0.12,0.44],[0.14,0.44],[0.16,0.44],[0.18,0.44],[0.20,0.44],[0.22,0.44],[0.24,0.44],[0.26,0.44],[0.28,0.44],[0.30,0.44],[0.32,0.44],[0.34,0.44],[0.11,0.42],[0.13,0.42],[0.15,0.42],[0.17,0.42],[0.19,0.42],[0.21,0.42],[0.23,0.42],[0.25,0.42],[0.27,0.42],[0.29,0.42],[0.31,0.42],[0.12,0.40],[0.14,0.40],[0.16,0.40],[0.18,0.40],[0.20,0.40],[0.22,0.40],[0.24,0.40],[0.26,0.40],[0.28,0.40],[0.15,0.38],[0.17,0.38],[0.19,0.38],[0.21,0.38],[0.23,0.38],[0.25,0.38],[0.27,0.38],[0.38,0.57]];

  const ccEcRed = [[0.11,0.945],[0.11,0.93],[0.12,0.94],[0.12,0.925],[0.13,0.93],[0.13,0.915],[0.14,0.925],[0.14,0.91],[0.15,0.915],[0.15,0.90],[0.16,0.91],[0.16,0.895],[0.17,0.90],[0.17,0.885],[0.18,0.895],[0.18,0.88],[0.19,0.885],[0.19,0.87],[0.20,0.88],[0.20,0.865],[0.21,0.87],[0.21,0.855],[0.22,0.865],[0.22,0.85],[0.23,0.855],[0.23,0.845],[0.23,0.87],[0.24,0.85],[0.24,0.865],[0.24,0.88],[0.25,0.87],[0.25,0.885],[0.26,0.89],[0.26,0.875],[0.27,0.90],[0.27,0.915],[0.28,0.92],[0.28,0.905],[0.29,0.935],[0.29,0.92],[0.30,0.945],[0.30,0.93],[0.31,0.95],[0.31,0.94],[0.32,0.935],[0.32,0.95],[0.33,0.94],[0.33,0.955],[0.34,0.935],[0.34,0.95],[0.35,0.94],[0.35,0.955],[0.36,0.935],[0.36,0.95],[0.37,0.94],[0.37,0.955],[0.38,0.935],[0.38,0.95],[0.39,0.94],[0.39,0.955],[0.40,0.935],[0.40,0.95],[0.41,0.94],[0.41,0.955],[0.42,0.935],[0.42,0.95],[0.43,0.94],[0.43,0.955],[0.44,0.935],[0.44,0.95],[0.45,0.94],[0.45,0.955],[0.46,0.945]];
  const ccEcGrey = [[0.11,0.80],[0.125,0.80],[0.11,0.78],[0.125,0.78],[0.14,0.78],[0.115,0.76],[0.13,0.76],[0.145,0.76],[0.16,0.76],[0.12,0.74],[0.135,0.74],[0.15,0.74],[0.165,0.74],[0.13,0.72],[0.145,0.72],[0.16,0.72],[0.175,0.72],[0.14,0.70],[0.155,0.70],[0.17,0.70],[0.185,0.70],[0.26,0.70],[0.15,0.68],[0.165,0.68],[0.18,0.68],[0.195,0.68],[0.25,0.68],[0.265,0.68],[0.16,0.66],[0.175,0.66],[0.19,0.66],[0.205,0.66],[0.25,0.66],[0.27,0.66],[0.17,0.64],[0.185,0.64],[0.20,0.64],[0.215,0.64],[0.245,0.64],[0.265,0.64],[0.18,0.62],[0.195,0.62],[0.21,0.62],[0.225,0.62],[0.245,0.62],[0.26,0.62],[0.19,0.60],[0.205,0.60],[0.22,0.60],[0.235,0.60],[0.25,0.60],[0.20,0.58],[0.215,0.58],[0.23,0.58],[0.245,0.58],[0.26,0.58],[0.21,0.56],[0.225,0.56],[0.24,0.56],[0.255,0.56],[0.225,0.54],[0.24,0.54],[0.255,0.54],[0.24,0.52],[0.255,0.52],[0.265,0.51],[0.265,0.72],[0.28,0.72],[0.27,0.74],[0.26,0.76],[0.28,0.76],[0.27,0.78],[0.285,0.78],[0.27,0.80],[0.29,0.80],[0.28,0.82],[0.30,0.82],[0.26,0.84],[0.29,0.84],[0.31,0.84],[0.32,0.84],[0.31,0.86],[0.33,0.86],[0.34,0.86],[0.33,0.88],[0.35,0.88],[0.37,0.88],[0.36,0.89],[0.38,0.89],[0.37,0.90],[0.39,0.90],[0.41,0.90],[0.40,0.91],[0.42,0.91],[0.44,0.91],[0.43,0.92],[0.45,0.92],[0.46,0.92],[0.45,0.93],[0.46,0.93],[0.23,0.75],[0.22,0.72],[0.24,0.80],[0.25,0.78],[0.30,0.71]];

  const ccScRed = [[0.11,0.945],[0.11,0.935],[0.12,0.94],[0.12,0.925],[0.13,0.935],[0.13,0.915],[0.14,0.925],[0.14,0.905],[0.15,0.915],[0.15,0.90],[0.16,0.905],[0.16,0.89],[0.17,0.90],[0.17,0.88],[0.18,0.89],[0.18,0.875],[0.19,0.88],[0.19,0.865],[0.20,0.875],[0.20,0.855],[0.21,0.865],[0.21,0.85],[0.22,0.855],[0.22,0.845],[0.23,0.85],[0.23,0.84],[0.23,0.865],[0.24,0.845],[0.24,0.86],[0.24,0.875],[0.25,0.865],[0.25,0.88],[0.26,0.885],[0.26,0.87],[0.27,0.90],[0.27,0.91],[0.28,0.92],[0.28,0.905],[0.29,0.935],[0.29,0.92],[0.30,0.945],[0.30,0.93],[0.31,0.95],[0.31,0.94],[0.32,0.94],[0.32,0.955],[0.33,0.935],[0.33,0.95],[0.34,0.94],[0.34,0.955],[0.35,0.935],[0.35,0.95],[0.36,0.94],[0.36,0.955],[0.37,0.935],[0.37,0.95],[0.38,0.94],[0.38,0.955],[0.39,0.935],[0.39,0.95],[0.40,0.94],[0.40,0.955],[0.41,0.935],[0.41,0.95],[0.42,0.94],[0.42,0.955],[0.43,0.935],[0.43,0.95],[0.44,0.94],[0.44,0.955],[0.45,0.94],[0.46,0.95]];
  const ccScGrey = [[0.11,0.795],[0.125,0.795],[0.11,0.775],[0.125,0.775],[0.14,0.775],[0.115,0.755],[0.13,0.755],[0.145,0.755],[0.16,0.755],[0.12,0.735],[0.135,0.735],[0.15,0.735],[0.165,0.735],[0.13,0.715],[0.145,0.715],[0.16,0.715],[0.175,0.715],[0.14,0.695],[0.155,0.695],[0.17,0.695],[0.185,0.695],[0.265,0.70],[0.15,0.675],[0.165,0.675],[0.18,0.675],[0.195,0.675],[0.255,0.675],[0.27,0.68],[0.16,0.655],[0.175,0.655],[0.19,0.655],[0.205,0.655],[0.25,0.655],[0.265,0.655],[0.17,0.635],[0.185,0.635],[0.20,0.635],[0.215,0.635],[0.245,0.635],[0.26,0.635],[0.18,0.615],[0.195,0.615],[0.21,0.615],[0.225,0.615],[0.245,0.615],[0.26,0.615],[0.19,0.595],[0.205,0.595],[0.22,0.595],[0.235,0.595],[0.25,0.595],[0.20,0.575],[0.215,0.575],[0.23,0.575],[0.245,0.575],[0.26,0.58],[0.21,0.555],[0.225,0.555],[0.24,0.555],[0.255,0.555],[0.225,0.535],[0.24,0.535],[0.255,0.535],[0.24,0.52],[0.255,0.515],[0.28,0.72],[0.29,0.735],[0.275,0.745],[0.28,0.765],[0.295,0.765],[0.285,0.785],[0.30,0.79],[0.29,0.805],[0.305,0.81],[0.30,0.83],[0.32,0.835],[0.25,0.83],[0.31,0.85],[0.33,0.855],[0.335,0.87],[0.35,0.87],[0.36,0.88],[0.37,0.885],[0.38,0.895],[0.39,0.89],[0.40,0.90],[0.41,0.91],[0.42,0.905],[0.43,0.915],[0.44,0.92],[0.45,0.915],[0.46,0.925],[0.45,0.93],[0.24,0.66],[0.25,0.71],[0.25,0.76],[0.245,0.80],[0.30,0.70]];

  const ccInfRed = [[0.11,0.99],[0.11,0.97],[0.12,0.99],[0.12,0.97],[0.13,0.985],[0.13,0.965],[0.14,0.985],[0.14,0.965],[0.15,0.98],[0.15,0.96],[0.16,0.98],[0.16,0.96],[0.17,0.975],[0.17,0.955],[0.18,0.975],[0.18,0.955],[0.19,0.97],[0.19,0.95],[0.20,0.97],[0.20,0.95],[0.21,0.965],[0.21,0.945],[0.22,0.965],[0.22,0.945],[0.23,0.96],[0.23,0.94],[0.24,0.96],[0.24,0.94],[0.25,0.955],[0.25,0.935],[0.26,0.955],[0.26,0.935],[0.27,0.95],[0.27,0.93],[0.28,0.94],[0.28,0.92],[0.29,0.93],[0.28,0.90],[0.29,0.89],[0.30,0.91],[0.29,0.87],[0.30,0.86],[0.31,0.88],[0.30,0.84],[0.31,0.83],[0.32,0.85],[0.31,0.81],[0.32,0.80],[0.33,0.82],[0.32,0.78],[0.33,0.77],[0.34,0.79],[0.34,0.76],[0.35,0.75],[0.36,0.77],[0.35,0.73],[0.37,0.74],[0.38,0.72],[0.37,0.71],[0.39,0.73],[0.40,0.70],[0.41,0.72],[0.40,0.68],[0.42,0.70],[0.43,0.69],[0.44,0.71],[0.45,0.68],[0.44,0.67],[0.46,0.69],[0.39,0.67],[0.36,0.82],[0.34,0.72]];
  const ccInfGrey = [[0.11,0.94],[0.11,0.92],[0.12,0.94],[0.12,0.92],[0.13,0.935],[0.13,0.915],[0.14,0.935],[0.14,0.915],[0.15,0.93],[0.15,0.91],[0.16,0.93],[0.16,0.91],[0.17,0.925],[0.17,0.905],[0.18,0.925],[0.18,0.905],[0.19,0.92],[0.19,0.90],[0.20,0.92],[0.20,0.90],[0.21,0.915],[0.21,0.895],[0.22,0.915],[0.22,0.895],[0.23,0.91],[0.23,0.89],[0.24,0.91],[0.24,0.89],[0.25,0.905],[0.25,0.885],[0.26,0.90],[0.26,0.88],[0.27,0.895],[0.24,0.86],[0.26,0.86],[0.25,0.84],[0.27,0.84],[0.24,0.82],[0.26,0.82],[0.25,0.80],[0.27,0.80],[0.24,0.78],[0.26,0.78],[0.28,0.78],[0.25,0.76],[0.27,0.76],[0.26,0.74],[0.28,0.74],[0.25,0.72],[0.27,0.72],[0.29,0.72],[0.26,0.70],[0.28,0.70],[0.27,0.68],[0.29,0.68],[0.26,0.66],[0.28,0.66],[0.30,0.66],[0.27,0.64],[0.29,0.64],[0.28,0.62],[0.30,0.62],[0.27,0.60],[0.29,0.60],[0.31,0.60],[0.28,0.58],[0.30,0.58],[0.29,0.56],[0.31,0.56],[0.30,0.54],[0.32,0.54],[0.29,0.52],[0.31,0.52],[0.33,0.52],[0.30,0.50],[0.32,0.50],[0.34,0.50],[0.31,0.48],[0.33,0.48],[0.35,0.48],[0.32,0.46],[0.34,0.46],[0.36,0.46],[0.33,0.44],[0.35,0.44],[0.37,0.44],[0.39,0.44],[0.34,0.42],[0.36,0.42],[0.38,0.42],[0.40,0.42],[0.42,0.43],[0.37,0.40],[0.39,0.40],[0.41,0.40],[0.43,0.40],[0.45,0.41],[0.42,0.38],[0.44,0.38],[0.46,0.38],[0.40,0.34],[0.35,0.39],[0.33,0.41]];

  const ecScRed = [[0.11,0.993],[0.125,0.993],[0.14,0.993],[0.155,0.993],[0.17,0.993],[0.185,0.993],[0.20,0.993],[0.215,0.993],[0.23,0.993],[0.245,0.993],[0.26,0.993],[0.275,0.993],[0.29,0.993],[0.305,0.993],[0.32,0.993],[0.335,0.993],[0.35,0.993],[0.365,0.993],[0.38,0.993],[0.395,0.993],[0.41,0.993],[0.425,0.993],[0.44,0.993],[0.455,0.993]];
  const ecScGrey = [[0.107,1.0],[0.117,1.0],[0.127,1.0],[0.137,1.0],[0.147,1.0],[0.157,1.0],[0.167,1.0],[0.177,1.0],[0.187,1.0],[0.197,1.0],[0.207,1.0],[0.217,1.0],[0.227,1.0],[0.237,1.0],[0.247,1.0],[0.257,1.0],[0.267,1.0],[0.277,1.0],[0.287,1.0],[0.297,1.0],[0.307,1.0],[0.317,1.0],[0.327,1.0],[0.337,1.0],[0.347,1.0],[0.357,1.0],[0.367,1.0],[0.377,1.0],[0.387,1.0],[0.397,1.0],[0.407,1.0],[0.417,1.0],[0.427,1.0],[0.437,1.0],[0.447,1.0],[0.457,1.0],[0.467,1.0]];

  const ecInfRed = [[0.12,0.955],[0.12,0.945],[0.13,0.948],[0.13,0.937],[0.14,0.94],[0.14,0.93],[0.15,0.935],[0.15,0.922],[0.16,0.927],[0.16,0.915],[0.17,0.92],[0.17,0.908],[0.18,0.913],[0.18,0.90],[0.19,0.906],[0.19,0.893],[0.20,0.90],[0.20,0.887],[0.21,0.892],[0.21,0.88],[0.22,0.885],[0.22,0.872],[0.23,0.878],[0.23,0.865],[0.24,0.871],[0.24,0.858],[0.25,0.864],[0.25,0.851],[0.25,0.877],[0.26,0.857],[0.26,0.844],[0.27,0.85],[0.27,0.837],[0.27,0.863],[0.28,0.843],[0.28,0.83],[0.29,0.836],[0.29,0.823],[0.29,0.85],[0.30,0.829],[0.30,0.816],[0.31,0.822],[0.31,0.809],[0.31,0.836],[0.32,0.815],[0.32,0.802],[0.33,0.808],[0.33,0.795],[0.33,0.822],[0.34,0.80],[0.34,0.788],[0.35,0.795],[0.35,0.78],[0.35,0.81],[0.36,0.787],[0.36,0.772],[0.37,0.78],[0.37,0.765],[0.38,0.77],[0.38,0.795],[0.39,0.763],[0.39,0.745],[0.40,0.757],[0.40,0.775],[0.41,0.75],[0.41,0.735],[0.42,0.742],[0.42,0.76],[0.43,0.735],[0.43,0.72],[0.44,0.73],[0.44,0.745],[0.45,0.72],[0.45,0.735],[0.46,0.715],[0.46,0.73]];
  const ecInfGrey = [[0.14,0.86],[0.155,0.86],[0.125,0.84],[0.14,0.84],[0.155,0.84],[0.17,0.84],[0.11,0.82],[0.125,0.82],[0.14,0.82],[0.155,0.82],[0.17,0.82],[0.185,0.82],[0.11,0.80],[0.125,0.80],[0.14,0.80],[0.155,0.80],[0.17,0.80],[0.185,0.80],[0.20,0.80],[0.12,0.78],[0.135,0.78],[0.15,0.78],[0.165,0.78],[0.18,0.78],[0.195,0.78],[0.21,0.78],[0.13,0.76],[0.145,0.76],[0.16,0.76],[0.175,0.76],[0.19,0.76],[0.205,0.76],[0.22,0.76],[0.14,0.74],[0.155,0.74],[0.17,0.74],[0.185,0.74],[0.20,0.74],[0.215,0.74],[0.23,0.74],[0.25,0.74],[0.15,0.72],[0.165,0.72],[0.18,0.72],[0.195,0.72],[0.21,0.72],[0.225,0.72],[0.24,0.72],[0.26,0.72],[0.16,0.70],[0.175,0.70],[0.19,0.70],[0.205,0.70],[0.22,0.70],[0.235,0.70],[0.25,0.70],[0.28,0.70],[0.175,0.68],[0.19,0.68],[0.205,0.68],[0.22,0.68],[0.235,0.68],[0.25,0.68],[0.265,0.68],[0.29,0.68],[0.19,0.66],[0.205,0.66],[0.22,0.66],[0.235,0.66],[0.25,0.66],[0.265,0.66],[0.28,0.66],[0.31,0.66],[0.37,0.66],[0.20,0.64],[0.215,0.64],[0.23,0.64],[0.245,0.64],[0.26,0.64],[0.275,0.64],[0.29,0.64],[0.33,0.64],[0.215,0.62],[0.23,0.62],[0.245,0.62],[0.26,0.62],[0.275,0.62],[0.29,0.62],[0.31,0.62],[0.345,0.62],[0.23,0.60],[0.245,0.60],[0.26,0.60],[0.275,0.60],[0.29,0.60],[0.305,0.60],[0.32,0.60],[0.245,0.58],[0.26,0.58],[0.275,0.58],[0.29,0.58],[0.305,0.58],[0.32,0.58],[0.34,0.58],[0.26,0.56],[0.275,0.56],[0.29,0.56],[0.305,0.56],[0.32,0.56],[0.335,0.56],[0.36,0.56],[0.28,0.54],[0.295,0.54],[0.31,0.54],[0.325,0.54],[0.34,0.54],[0.36,0.54],[0.385,0.54],[0.295,0.52],[0.31,0.52],[0.325,0.52],[0.34,0.52],[0.355,0.52],[0.37,0.52],[0.31,0.50],[0.325,0.50],[0.34,0.50],[0.355,0.50],[0.37,0.50],[0.39,0.50],[0.33,0.48],[0.345,0.48],[0.36,0.48],[0.375,0.48],[0.40,0.48],[0.35,0.46],[0.365,0.46],[0.38,0.46],[0.40,0.46],[0.42,0.46],[0.45,0.46],[0.37,0.44],[0.385,0.44],[0.40,0.44],[0.43,0.44],[0.46,0.44],[0.385,0.42],[0.40,0.42],[0.42,0.42],[0.41,0.40]];

  const scInfRed = [[0.11,0.955],[0.11,0.945],[0.12,0.95],[0.12,0.937],[0.13,0.942],[0.13,0.93],[0.14,0.935],[0.14,0.922],[0.15,0.928],[0.15,0.915],[0.16,0.92],[0.16,0.908],[0.17,0.913],[0.17,0.90],[0.18,0.906],[0.18,0.893],[0.19,0.90],[0.19,0.887],[0.20,0.892],[0.20,0.88],[0.21,0.885],[0.21,0.872],[0.22,0.878],[0.22,0.865],[0.23,0.871],[0.23,0.858],[0.24,0.864],[0.24,0.851],[0.24,0.877],[0.25,0.857],[0.25,0.844],[0.26,0.85],[0.26,0.837],[0.26,0.863],[0.27,0.843],[0.27,0.83],[0.28,0.836],[0.28,0.823],[0.28,0.85],[0.29,0.829],[0.29,0.816],[0.30,0.822],[0.30,0.809],[0.30,0.836],[0.31,0.815],[0.31,0.802],[0.32,0.808],[0.32,0.795],[0.32,0.822],[0.33,0.80],[0.33,0.788],[0.34,0.795],[0.34,0.78],[0.35,0.787],[0.35,0.772],[0.36,0.78],[0.36,0.81],[0.37,0.77],[0.37,0.795],[0.38,0.763],[0.38,0.745],[0.39,0.757],[0.39,0.775],[0.40,0.75],[0.40,0.735],[0.41,0.742],[0.41,0.76],[0.42,0.735],[0.42,0.72],[0.43,0.73],[0.43,0.745],[0.44,0.72],[0.44,0.735],[0.45,0.715],[0.45,0.73],[0.46,0.72]];
  const scInfGrey = [[0.135,0.86],[0.15,0.865],[0.12,0.84],[0.135,0.84],[0.15,0.84],[0.165,0.84],[0.11,0.82],[0.12,0.82],[0.135,0.82],[0.15,0.82],[0.165,0.82],[0.18,0.82],[0.11,0.80],[0.12,0.80],[0.135,0.80],[0.15,0.80],[0.165,0.80],[0.18,0.80],[0.195,0.80],[0.115,0.78],[0.13,0.78],[0.145,0.78],[0.16,0.78],[0.175,0.78],[0.19,0.78],[0.205,0.78],[0.125,0.76],[0.14,0.76],[0.155,0.76],[0.17,0.76],[0.185,0.76],[0.20,0.76],[0.215,0.76],[0.135,0.74],[0.15,0.74],[0.165,0.74],[0.18,0.74],[0.195,0.74],[0.21,0.74],[0.225,0.74],[0.245,0.745],[0.145,0.72],[0.16,0.72],[0.175,0.72],[0.19,0.72],[0.205,0.72],[0.22,0.72],[0.235,0.72],[0.255,0.72],[0.155,0.70],[0.17,0.70],[0.185,0.70],[0.20,0.70],[0.215,0.70],[0.23,0.70],[0.245,0.70],[0.275,0.70],[0.17,0.68],[0.185,0.68],[0.20,0.68],[0.215,0.68],[0.23,0.68],[0.245,0.68],[0.26,0.68],[0.285,0.68],[0.185,0.66],[0.20,0.66],[0.215,0.66],[0.23,0.66],[0.245,0.66],[0.26,0.66],[0.275,0.66],[0.305,0.66],[0.36,0.665],[0.195,0.64],[0.21,0.64],[0.225,0.64],[0.24,0.64],[0.255,0.64],[0.27,0.64],[0.285,0.64],[0.325,0.64],[0.21,0.62],[0.225,0.62],[0.24,0.62],[0.255,0.62],[0.27,0.62],[0.285,0.62],[0.305,0.62],[0.34,0.62],[0.225,0.60],[0.24,0.60],[0.255,0.60],[0.27,0.60],[0.285,0.60],[0.30,0.60],[0.315,0.60],[0.24,0.58],[0.255,0.58],[0.27,0.58],[0.285,0.58],[0.30,0.58],[0.315,0.58],[0.335,0.58],[0.255,0.56],[0.27,0.56],[0.285,0.56],[0.30,0.56],[0.315,0.56],[0.33,0.56],[0.355,0.56],[0.275,0.54],[0.29,0.54],[0.305,0.54],[0.32,0.54],[0.335,0.54],[0.355,0.54],[0.38,0.54],[0.29,0.52],[0.305,0.52],[0.32,0.52],[0.335,0.52],[0.35,0.52],[0.365,0.52],[0.305,0.50],[0.32,0.50],[0.335,0.50],[0.35,0.50],[0.365,0.50],[0.385,0.50],[0.325,0.48],[0.34,0.48],[0.355,0.48],[0.37,0.48],[0.395,0.48],[0.345,0.46],[0.36,0.46],[0.375,0.46],[0.395,0.46],[0.415,0.46],[0.445,0.465],[0.365,0.44],[0.38,0.44],[0.395,0.44],[0.425,0.44],[0.455,0.44],[0.38,0.42],[0.395,0.42],[0.415,0.42],[0.405,0.40]];

  const redSeries = [dcBcRed, dcCcRed, dcEcRed, dcScRed, dcInfRed, bcCcRed, bcEcRed, bcScRed, bcInfRed, ccEcRed, ccScRed, ccInfRed, ecScRed, ecInfRed, scInfRed];
  const greySeries = [dcBcGrey, dcCcGrey, dcEcGrey, dcScGrey, dcInfGrey, bcCcGrey, bcEcGrey, bcScGrey, bcInfGrey, ccEcGrey, ccScGrey, ccInfGrey, ecScGrey, ecInfGrey, scInfGrey];

  // grid of plot boxes (left/top of each box, px)
  const boxLefts = [43, 219, 396, 572, 748];
  const boxTops = [23, 218, 413];
  const BOX_W = 162, BOX_H = 161, AXIS_W = 40, TITLE_H = 23;

  const serif = "'Liberation Serif', 'Times New Roman', serif";

  const frame = {
    id: 'frame',
    beforeDatasetsDraw(chart) {
      const a = chart.chartArea, c = chart.ctx;
      c.save();
      c.strokeStyle = '#d6d6d6';
      c.lineWidth = 1.3;
      c.strokeRect(a.left, a.top, a.right - a.left, a.bottom - a.top);
      c.restore();
    }
  };

  // dark at the left edge of the grey cloud, fading to mid grey
  function greyShade(x, x0, span) {
    const t = Math.max(0, Math.min(1, (x - x0) / span));
    const g = Math.round(22 + 118 * Math.sqrt(t));
    return `rgb(${g},${g},${g})`;
  }

  panelTitles.forEach((title, i) => {
    const col = i % 5, row = Math.floor(i / 5);
    const cv = document.createElement('canvas');
    cv.width = AXIS_W + BOX_W + 2;
    cv.height = TITLE_H + BOX_H + 2;
    cv.style.left = (boxLefts[col] - AXIS_W) + 'px';
    cv.style.top = (boxTops[row] - TITLE_H) + 'px';
    document.body.appendChild(cv);

    const grey = greySeries[i].map(p => ({ x: p[0], y: p[1] }));
    const red = redSeries[i].map(p => ({ x: p[0], y: p[1] }));
    const x0 = Math.min(...grey.map(p => p.x));
    const span = title === 'EC and SC' ? 0.36 : 0.09;

    new Chart(cv, {
      type: 'scatter',
      data: {
        datasets: [
          {
            label: 'grey',
            data: grey,
            pointRadius: 2.5,
            pointBorderWidth: 0,
            pointBackgroundColor: ctx => greyShade(ctx.raw.x, x0, span)
          },
          {
            label: 'red',
            data: red,
            pointRadius: 2.4,
            pointBorderWidth: 0,
            pointBackgroundColor: 'rgba(195,0,0,0.6)'
          }
        ]
      },
      options: {
        responsive: false,
        animation: false,
        events: [],
        layout: { padding: { left: 0, right: 2, top: 0, bottom: 2 } },
        plugins: {
          legend: { display: false },
          tooltip: { enabled: false },
          title: {
            display: true,
            text: title,
            fullSize: false,
            color: '#1a1a1a',
            font: { family: serif, size: 12, weight: 'normal', lineHeight: 1.2 },
            padding: { top: 7, bottom: 1.6 }
          }
        },
        scales: {
          x: { display: false, min: 0, max: 1 },
          y: {
            min: -0.037,
            max: 1.056,
            afterBuildTicks: s => { s.ticks = yTicks.map(v => ({ value: v })); },
            afterFit: s => {
              s.width = AXIS_W;
              s.paddingTop = 0;
              s.paddingBottom = 0;
            },
            grid: { display: false, drawTicks: false },
            border: { display: false },
            ticks: {
              display: col === 0,
              padding: 9,
              color: '#1a1a1a',
              font: { family: serif, size: 14 },
              callback: v => Number(v).toFixed(1)
            }
          }
        }
      },
      plugins: [frame]
    });
  });
</script>
</body>
</html>
